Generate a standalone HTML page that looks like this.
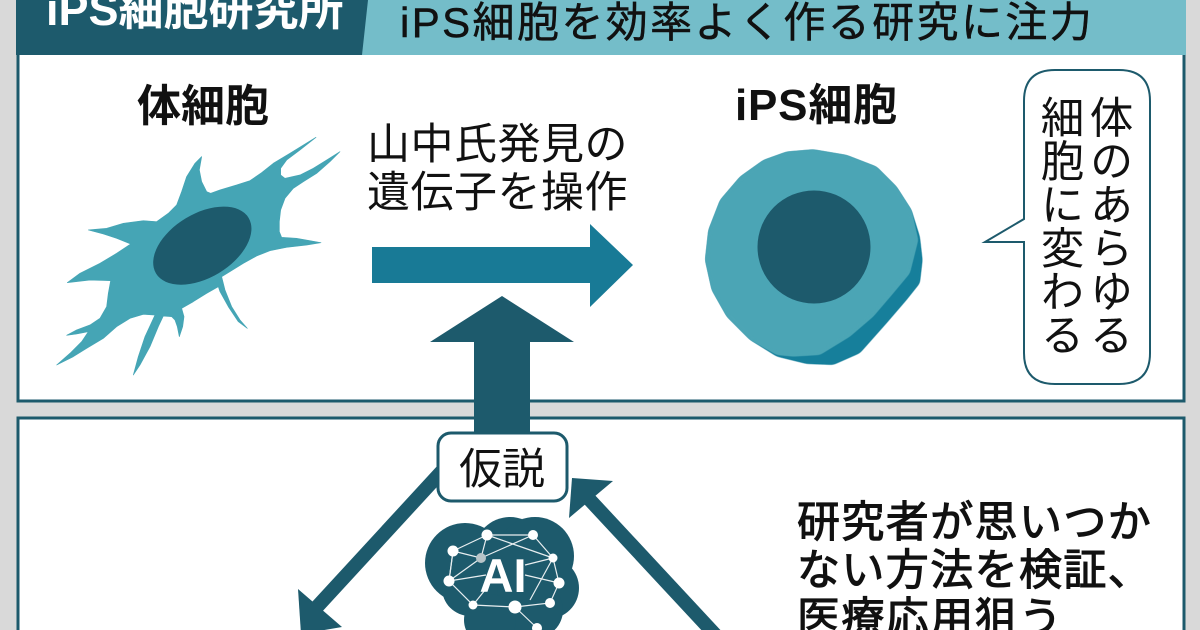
<!DOCTYPE html>
<html lang="ja">
<head>
<meta charset="utf-8">
<title>iPS細胞研究所</title>
<style>
html,body{margin:0;padding:0;background:#d9d9d9;}
#c{position:relative;width:1200px;height:630px;overflow:hidden;background:#d9d9d9;font-family:"Liberation Sans","Noto Sans CJK JP",sans-serif;}
svg{position:absolute;left:0;top:0;}
text{font-family:"Liberation Sans","Noto Sans CJK JP",sans-serif;}
.v{position:absolute;writing-mode:vertical-rl;font-size:43.5px;line-height:49px;color:#111;white-space:nowrap;left:1033px;top:95px;}
</style>
</head>
<body>
<div id="c">
<svg width="1200" height="630" viewBox="0 0 1200 630" xmlns="http://www.w3.org/2000/svg">
  <defs>
    <filter id="smooth" x="-5%" y="-5%" width="110%" height="110%">
      <feGaussianBlur stdDeviation="2"/>
      <feComponentTransfer>
        <feFuncA type="linear" slope="5" intercept="-2"/>
      </feComponentTransfer>
    </filter>
  </defs>
  <!-- panels -->
  <rect x="18" y="40" width="1166" height="361" fill="#fff" stroke="#1d5a6c" stroke-width="3"/>
  <rect x="18" y="418" width="1166" height="230" fill="#fff" stroke="#1d5a6c" stroke-width="3"/>
  <!-- header -->
  <rect x="16" y="0" width="1170" height="55" fill="#74bdc9"/>
  <polygon points="16,0 368,0 362,55 16,55" fill="#1d5a6c"/>
  <text x="46" y="25" font-size="45" font-weight="700" fill="#fff">iPS細胞研究所</text>
  <text x="400" y="37" font-size="42" letter-spacing="2.4" fill="#111" stroke="#111" stroke-width="0.5">iPS細胞を効率よく作る研究に注力</text>

  <!-- labels -->
  <text x="137" y="121" font-size="44" font-weight="700" fill="#111">体細胞</text>
  <text x="735" y="120" font-size="44" font-weight="700" letter-spacing="0.8" fill="#111">iPS細胞</text>
  <text x="367" y="159" font-size="43" letter-spacing="0.5" fill="#111">山中氏発見の</text>
  <text x="367" y="207" font-size="43" letter-spacing="0.5" fill="#111">遺伝子を操作</text>

  <!-- somatic cell -->
  <g transform="translate(40,130) scale(0.3333)">
    <polygon stroke="#45a5b5" stroke-width="2" stroke-linejoin="round" fill="#45a5b5" points="485,80 478,120 485,155 500,185 512,190 540,180 590,165 630,152 665,128 700,100 750,70 828,22 780,60 740,90 722,115 722,135 735,145 780,135 820,115 860,90 900,65 870,95 830,130 790,155 760,175 735,205 722,240 718,275 718,305 725,322 770,325 810,332 843,338 800,345 740,352 690,362 650,378 610,400 570,425 545,440 555,480 575,530 600,570 622,595 595,575 565,530 540,485 535,470 500,490 460,515 425,535 432,560 428,590 418,620 412,590 405,570 395,560 370,558 355,590 330,650 300,705 280,735 295,680 315,620 345,555 310,553 270,565 230,590 190,625 140,655 100,680 50,705 90,670 125,635 145,605 110,612 80,616 110,600 150,585 180,565 200,530 205,490 212,452 150,450 82,458 120,430 180,400 230,370 272,342 230,325 190,312 145,300 200,295 250,280 310,272 350,275 385,250 410,225 425,185 440,140 465,100"/>
    <ellipse cx="487" cy="347" rx="162" ry="96" transform="rotate(-31 487 347)" fill="#1d5a6c"/>
  </g>

  <!-- horizontal arrow -->
  <polygon points="372,247 590,247 590,224 633,265 590,307 590,283 372,283" fill="#187a96"/>

  <!-- iPS cell -->
  <g filter="url(#smooth)">
    <polygon transform="translate(680,60) scale(0.3333)" fill="#187f9b" points="400,268 500,285 590,320 650,380 695,450 720,530 728,600 720,670 680,720 620,790 540,880 460,915 380,912 290,890 210,840 140,770 95,690 75,600 85,510 120,420 180,350 250,300 320,275"/>
  </g>
  <g filter="url(#smooth)">
    <polygon transform="translate(680,60) scale(0.3333)" fill="#4ba5b5" points="400,268 500,285 590,320 650,380 695,450 715,540 690,640 640,700 580,770 510,830 420,885 340,890 290,885 210,840 140,770 95,690 75,600 85,510 120,420 180,350 250,300 320,275"/>
  </g>
  <circle cx="814" cy="247" r="56.5" fill="#1d5a6c"/>

  <!-- speech bubble -->
  <path d="M1055,70 H1119 Q1150,70 1150,101 V353 Q1150,384 1119,384 H1055 Q1024,384 1024,353 V242 H985 L1024,219 V101 Q1024,70 1055,70 Z" fill="#fff" stroke="#1d5a6c" stroke-width="2"/>

  <!-- up arrow -->
  <polygon points="502,296 574,342 530,342 530,435 474,435 474,342 430,342" fill="#1d5a6c"/>

  <!-- cycle arrows -->
  <line x1="443" y1="470" x2="316" y2="608" stroke="#1d5a6c" stroke-width="14"/>
  <polygon points="298,589 342,627 301,634" fill="#1d5a6c"/>
  <line x1="589" y1="499" x2="722" y2="642" stroke="#1d5a6c" stroke-width="14"/>
  <polygon points="572,478 613,481 569,518" fill="#1d5a6c"/>

  <!-- hypothesis box -->
  <rect x="438" y="433" width="129" height="68" rx="13" fill="#fff" stroke="#1d5a6c" stroke-width="3"/>
  <text x="459" y="484" font-size="43" fill="#111">仮説</text>

  <!-- AI brain -->
  <g fill="#1d5a6c">
    <circle cx="465" cy="563" r="40"/>
    <circle cx="510" cy="553" r="36"/>
    <circle cx="535" cy="556" r="39"/>
    <circle cx="548" cy="588" r="31"/>
    <circle cx="510" cy="585" r="48"/>
    <circle cx="470" cy="588" r="28"/>
    <circle cx="535" cy="610" r="28"/>
    <circle cx="490" cy="620" r="26"/>
  </g>
  <g stroke="#e8eef0" stroke-width="1.2" fill="none">
    <polyline points="487,535 533,535 553,558 559,583 550,603 515,607 473,605 449,581 453,551 487,535"/>
    <polyline points="487,535 481,558 453,551"/>
    <polyline points="487,535 553,558"/>
    <polyline points="533,535 481,558"/>
    <polyline points="481,558 449,581"/>
    <polyline points="453,551 449,581 486,575"/>
    <polyline points="553,558 525,565"/>
    <polyline points="553,558 530,600"/>
    <polyline points="559,583 525,575"/>
    <polyline points="515,607 537,628"/>
    <polyline points="473,605 485,590"/>
  </g>
  <g fill="#fff">
    <circle cx="487" cy="535" r="5.5"/>
    <circle cx="533" cy="535" r="5"/>
    <circle cx="453" cy="551" r="5.5"/>
    <circle cx="553" cy="558" r="4.5"/>
    <circle cx="449" cy="581" r="5.5"/>
    <circle cx="559" cy="583" r="5.5"/>
    <circle cx="473" cy="605" r="4.5"/>
    <circle cx="515" cy="607" r="6.5"/>
    <circle cx="550" cy="603" r="5"/>
    <circle cx="537" cy="628" r="5"/>
    <circle cx="481" cy="558" r="5" fill="#b8c4c8"/>
  </g>
  <text x="503" y="592" font-size="47" font-weight="700" fill="#fff" text-anchor="middle">AI</text>

  <!-- right text -->
  <g font-size="43" letter-spacing="1.4" fill="#111" stroke="#111" stroke-width="1.1">
    <text x="797" y="537">研究者が思いつか</text>
    <text x="797" y="585">ない方法を検証、</text>
    <text x="797" y="633">医療応用狙う</text>
  </g>
</svg>
<div class="v">体のあらゆる<br>細胞に変わる</div>
</div>
</body>
</html>
